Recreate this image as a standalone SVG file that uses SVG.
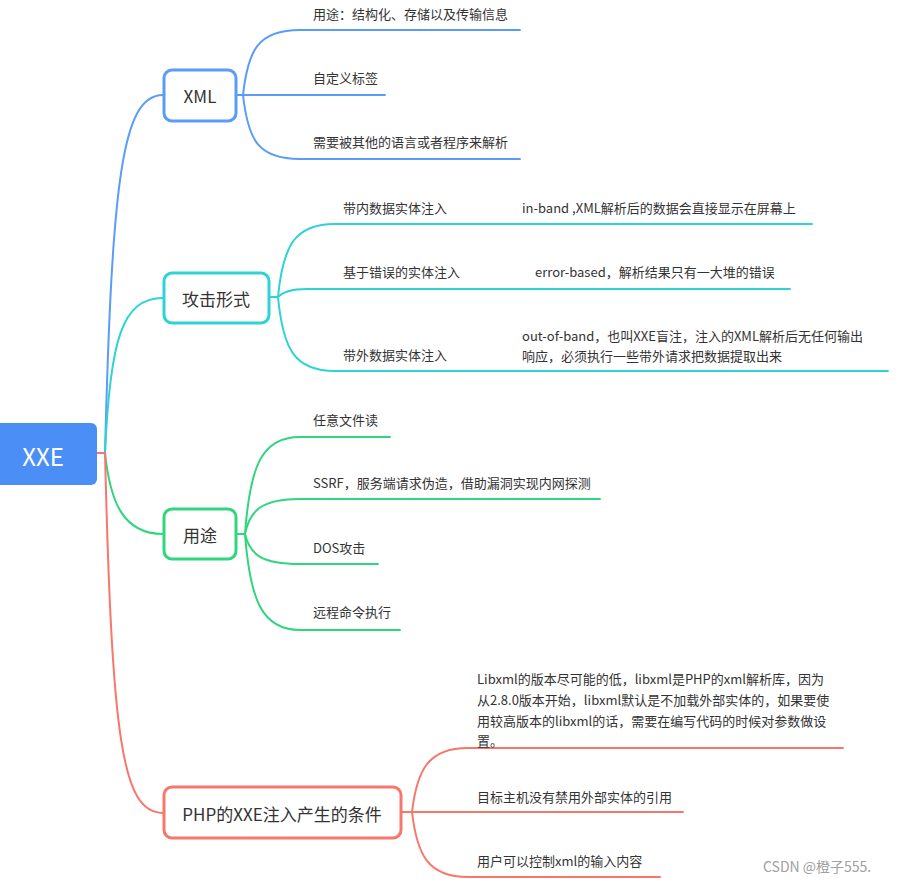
<svg xmlns="http://www.w3.org/2000/svg" width="904" height="883" viewBox="0 0 904 883">
<style>
.t{font-family:"Noto Sans CJK SC","Liberation Sans",sans-serif;font-size:13px;fill:#333;dominant-baseline:central}
.m{font-family:"Noto Sans CJK SC","Liberation Sans",sans-serif;font-size:17px;fill:#333;text-anchor:middle;dominant-baseline:central}
.n{fill:#fff;stroke-width:3}
.c{fill:none;stroke-width:2;stroke-linecap:round}
.b{stroke:#5a9cf8}.q{stroke:#2fd3d3}.g{stroke:#30d67c}.r{stroke:#f8776b}
</style>
<rect width="904" height="883" fill="#fff"/>
<g id="connectors">
<path class="c r" d="M97,453 L105,453"/>
<path class="c b" d="M105,453 C112,180 122,95 163,95"/>
<path class="c q" d="M105,453 C110,340 122,298 163,298"/>
<path class="c g" d="M105,453 C110,500 122,534 163,534"/>
<path class="c r" d="M105,453 C112,740 122,813 163,813"/>
<path class="c b" d="M236,95 L243,95 C248,50 258,30 300,30 L520,30"/>
<path class="c b" d="M243,95 L385,95"/>
<path class="c b" d="M243,95 C248,140 258,159 300,159 L520,159"/>
<path class="c q" d="M269,297 L278,297 C283,245 295,224 335,224 L812,224"/>
<path class="c q" d="M278,297 C283,292 290,289 307,289 L790,289"/>
<path class="c q" d="M278,297 C283,350 295,371 335,371 L888,371"/>
<path class="c g" d="M236,534 L245,534 C250,465 262,437 300,437 L390,437"/>
<path class="c g" d="M245,534 C250,510 262,499 300,499 L600,499"/>
<path class="c g" d="M245,534 C250,555 262,564 300,564 L378,564"/>
<path class="c g" d="M245,534 C250,600 262,630 300,630 L400,630"/>
<path class="c r" d="M401,812 L412,812 C417,770 428,748 468,748 L843,748"/>
<path class="c r" d="M412,812 L683,812"/>
<path class="c r" d="M412,812 C417,855 428,877 468,877 L660,877"/>
</g>
<g id="root">
<rect x="-10" y="423" width="107" height="62" rx="6" fill="#4b8ef5"/>
<text x="43" y="455" style="font-family:'Noto Sans CJK SC','Liberation Sans',sans-serif;font-size:24px;fill:#fff;text-anchor:middle;dominant-baseline:central">XXE</text>
</g>
<g id="xml">
<rect class="n b" x="164" y="70" width="72" height="51" rx="8"/>
<text class="m" x="200" y="95">XML</text>
</g>
<g id="xml-1"><text class="t" x="313" y="13">用途：结构化、存储以及传输信息</text></g>
<g id="xml-2"><text class="t" x="313" y="77">自定义标签</text></g>
<g id="xml-3"><text class="t" x="313" y="141">需要被其他的语言或者程序来解析</text></g>
<g id="attack">
<rect class="n q" x="164" y="273" width="105" height="50" rx="8"/>
<text class="m" x="216" y="298">攻击形式</text>
</g>
<g id="attack-1"><text class="t" x="343" y="207">带内数据实体注入</text></g>
<g id="attack-1a"><text class="t" x="522" y="207">in-band ,XML解析后的数据会直接显示在屏幕上</text></g>
<g id="attack-2"><text class="t" x="343" y="271">基于错误的实体注入</text></g>
<g id="attack-2a"><text class="t" x="535" y="271">error-based，解析结果只有一大堆的错误</text></g>
<g id="attack-3"><text class="t" x="343" y="354">带外数据实体注入</text></g>
<g id="attack-3a"><text class="t" x="522" y="335">out-of-band，也叫XXE盲注，注入的XML解析后无任何输出</text><text class="t" x="522" y="355">响应，必须执行一些带外请求把数据提取出来</text></g>
<g id="usage">
<rect class="n g" x="164" y="509" width="72" height="50" rx="8"/>
<text class="m" x="200" y="534">用途</text>
</g>
<g id="usage-1"><text class="t" x="313" y="419">任意文件读</text></g>
<g id="usage-2"><text class="t" x="313" y="482">SSRF，服务端请求伪造，借助漏洞实现内网探测</text></g>
<g id="usage-3"><text class="t" x="313" y="547">DOS攻击</text></g>
<g id="usage-4"><text class="t" x="313" y="611">远程命令执行</text></g>
<g id="php">
<rect class="n r" x="164" y="787" width="237" height="51" rx="8"/>
<text class="m" x="282" y="813">PHP的XXE注入产生的条件</text>
</g>
<g id="php-1"><text class="t" x="477" y="678">Libxml的版本尽可能的低，libxml是PHP的xml解析库，因为</text><text class="t" x="477" y="699">从2.8.0版本开始，libxml默认是不加载外部实体的，如果要使</text><text class="t" x="477" y="720">用较高版本的libxml的话，需要在编写代码的时候对参数做设</text><text class="t" x="477" y="740">置。</text></g>
<g id="php-2"><text class="t" x="477" y="796">目标主机没有禁用外部实体的引用</text></g>
<g id="php-3"><text class="t" x="477" y="860">用户可以控制xml的输入内容</text></g>
<text x="763" y="866" style="font-family:'Noto Sans CJK SC','Liberation Sans',sans-serif;font-size:14px;fill:#a0a0a0;dominant-baseline:central">CSDN @橙子555.</text>
</svg>
